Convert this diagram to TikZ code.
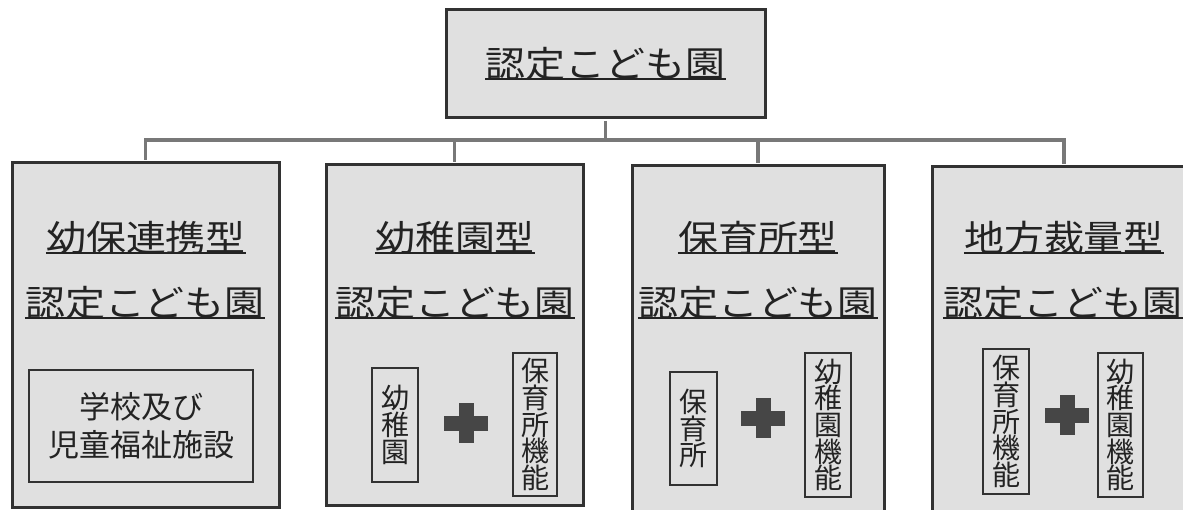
\documentclass[tikz,border=0pt]{standalone}
\usepackage{fontspec}
\newfontfamily\tfont[FakeStretch=1.11]{Noto Sans CJK JP}
\newfontfamily\gfont{Noto Sans CJK JP}
\newcommand\vtextfont{\gfont\fontsize{28}{26.7}\selectfont\lineskiplimit=-100pt\relax}
\definecolor{boxfill}{RGB}{224,224,224}
\definecolor{edgecol}{RGB}{50,50,50}
\definecolor{ink}{RGB}{35,35,35}
\definecolor{conncol}{RGB}{120,120,120}
\definecolor{pluscol}{RGB}{70,70,70}
\begin{document}
\begin{tikzpicture}[x=1pt,y=-1pt,
  bigbox/.style={draw=edgecol, line width=3pt, fill=boxfill, inner sep=0pt},
  title/.style={font=\tfont\fontsize{36}{40}\selectfont, text=ink, inner sep=0pt},
  uline/.style={draw=ink, line width=1.5pt},
  conn/.style={draw=conncol, line width=3.5pt},
  vbox/.style={draw=edgecol, line width=2pt, fill=boxfill, inner sep=0pt, align=center,
    font=\vtextfont, text=ink},
  hbox/.style={draw=edgecol, line width=2pt, fill=boxfill, inner sep=0pt, align=center,
    font=\gfont\fontsize{31}{38}\selectfont, text=ink},
  plus/.style={minimum width=44pt, minimum height=40pt, inner sep=0pt,
    path picture={
      \fill[pluscol] ([xshift=-7.5pt]path picture bounding box.north) rectangle ([xshift=7.5pt]path picture bounding box.south);
      \fill[pluscol] ([yshift=7.5pt]path picture bounding box.west) rectangle ([yshift=-7.5pt]path picture bounding box.east);}}
]
\useasboundingbox (0,0) rectangle (1183,510);
\clip (0,0) rectangle (1183,510);

% top box
\node[bigbox, minimum width=319pt, minimum height=108pt] (top) at (605.5,64) {};
\node[title] (ttop) at (605.5,64) {認定こども園};

% four type boxes
\node[bigbox, minimum width=267pt, minimum height=344pt] (b1) at (145.5,335) {};
\node[bigbox, minimum width=257pt, minimum height=340pt] (b2) at (454.5,335) {};
\node[bigbox, minimum width=252pt, minimum height=349pt] (b3) at (758,340.5) {};
\node[bigbox, minimum width=264pt, minimum height=348pt] (b4) at (1064,341) {};

% titles
\node[title] (t1a) at (146,238) {幼保連携型};
\node[title] (t1b) at (145,303) {認定こども園};
\node[title] (t2a) at (455,238) {幼稚園型};
\node[title] (t2b) at (455,303) {認定こども園};
\node[title] (t3a) at (758,238) {保育所型};
\node[title] (t3b) at (758,303) {認定こども園};
\node[title] (t4a) at (1064,238) {地方裁量型};
\node[title] (t4b) at (1063,303) {認定こども園};

\foreach \n in {ttop,t1a,t1b,t2a,t2b,t3a,t3b,t4a,t4b}{
  \draw[uline] ([yshift=2pt]\n.south west) -- ([yshift=2pt]\n.south east);
}

% connectors
\coordinate (bus) at (605.5,140);
\draw[conn, shorten <=1.5pt] (top.south) -- (bus);
\foreach \b in {b1,b2,b3,b4}{
  \draw[conn, shorten <=1.5pt] (\b.north) |- (bus);
}

% box 1 content
\node[hbox, minimum width=224pt, minimum height=112pt] (i1) at (141,426) {学校及び\\児童福祉施設};

% box 2 content
\node[vbox, minimum width=46pt, minimum height=114pt] (k2) at (395,425) {幼\\稚\\園};
\node[plus] (p2) at (466,423) {};
\node[vbox, minimum width=44pt, minimum height=143pt] (h2) at (535,424.5) {保\\育\\所\\機\\能};

% box 3 content
\node[vbox, minimum width=47pt, minimum height=113pt] (h3) at (693.5,428.5) {保\\育\\所};
\node[plus] (p3) at (763,418) {};
\node[vbox, minimum width=46pt, minimum height=144pt] (k3) at (828,425) {幼\\稚\\園\\機\\能};

% box 4 content
\node[vbox, minimum width=46pt, minimum height=145pt] (h4) at (1006,421.5) {保\\育\\所\\機\\能};
\node[plus] (p4) at (1067,415) {};
\node[vbox, minimum width=45pt, minimum height=144pt] (k4) at (1120.5,425) {幼\\稚\\園\\機\\能};
\end{tikzpicture}
\end{document}
